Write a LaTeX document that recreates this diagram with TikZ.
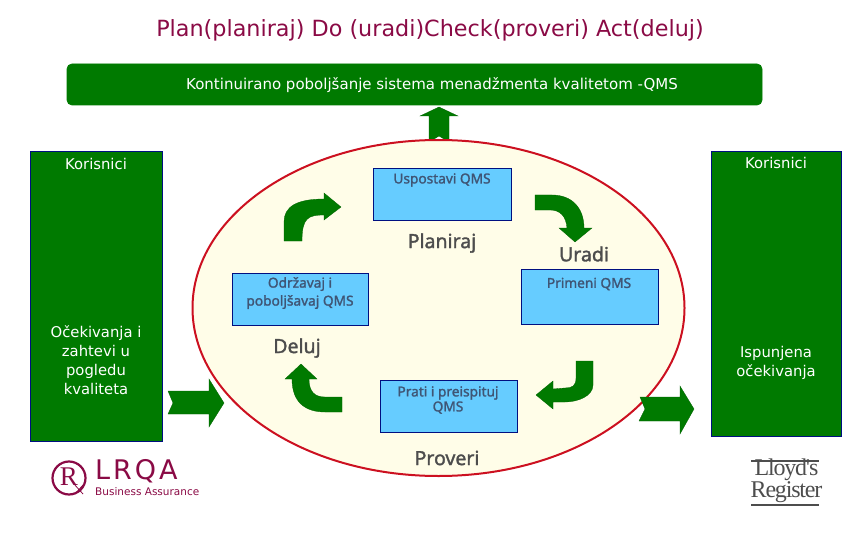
\documentclass[tikz,border=0pt]{standalone}
\usepackage{fontspec}
\setmainfont{DejaVu Sans}
\newfontfamily\serifface[LetterSpace=-5]{Liberation Serif}
\newfontfamily\sealface{Liberation Serif}
\newfontfamily\spacedface[LetterSpace=11]{DejaVu Sans}
\newfontfamily\labelface[FakeBold=1.6]{Noto Sans}
\definecolor{barGreen}{HTML}{007A00}
\definecolor{boxBlue}{HTML}{66CCFF}
\definecolor{boxEdge}{HTML}{000F80}
\definecolor{ovalFill}{HTML}{FFFDE8}
\definecolor{ovalEdge}{HTML}{CC1020}
\definecolor{titleRed}{HTML}{8A0A45}
\definecolor{slate}{HTML}{3F5575}
\definecolor{greyText}{HTML}{4D4D4D}
\tikzset{
  x=1pt,y=-1pt,
  greenbox/.style={draw=boxEdge,fill=barGreen,line width=.8pt},
  bluebox/.style={draw=boxEdge,fill=boxBlue,line width=.8pt},
  greenshape/.style={fill=barGreen,draw=barGreen!80!black,line width=.3pt},
  boxtext/.style={font=\labelface\fontsize{13.7}{15}\selectfont,text=slate,align=center},
  sidetext/.style={font=\fontsize{14.8}{19}\selectfont,text=white,align=center},
  steptext/.style={font=\labelface\fontsize{19.5}{21}\selectfont,text=greyText},
}
\begin{document}
\begin{tikzpicture}
    \useasboundingbox (0,0) rectangle (864,540);
    \node[font=\fontsize{22.3}{26}\selectfont,text=titleRed] (title) at (430,30) {Plan(planiraj) Do (uradi)Check(proveri) Act(deluj)};
    \draw[greenbox,draw=barGreen,rounded corners=5pt] (67,64) rectangle (762,105);
    \node[font=\fontsize{15}{18}\selectfont,text=white] (kaizen) at (432,85) {Kontinuirano poboljšanje sistema menadžmenta kvalitetom -QMS};
    % side columns
    \draw[greenbox] (30,151) rectangle (162,441);
    \draw[greenbox] (711,151) rectangle (841,436);
    \node[sidetext] (custL) at (96,164) {Korisnici};
    \node[sidetext] (custR) at (776,163) {Korisnici};
    \node[sidetext] (needs) at (96,360) {Očekivanja i\\zahtevi u\\pogledu\\kvaliteta};
    \node[sidetext] (met) at (776,363) {Ispunjena\\očekivanja};
    % arrow up, under the oval
    \fill[greenshape] (439,107)--(458,116)--(449,116)--(449,142)--(439,136)--(429,142)--(429,116)--(420,116)--cycle;
    \draw[draw=ovalEdge,fill=ovalFill,line width=2pt] (438.5,308) ellipse (246 and 168);
    % boxes of the cycle
    \draw[bluebox] (373,168) rectangle (511,220);
    \draw[bluebox] (521,269) rectangle (658,324);
    \draw[bluebox] (380,380) rectangle (517,432);
    \draw[bluebox] (232,273) rectangle (368,325);
    \node[boxtext] (plan) at (442,180) {Uspostavi QMS};
    \node[boxtext] (doit) at (589,284) {Primeni QMS};
    \node[boxtext] (check) at (448,400) {Prati i preispituj\\QMS};
    \node[boxtext] (act) at (300,293) {Održavaj i\\[3pt]poboljšavaj QMS};
    \node[steptext] (planL) at (442,243) {Planiraj};
    \node[steptext] (doL) at (584,254) {Uradi};
    \node[steptext] (checkL) at (447,458) {Proveri};
    \node[steptext] (actL) at (297,348) {Deluj};
    % bent arrows
    \fill[greenshape] (284,241)--(284,222) .. controls (284,207) and (296,199) .. (324,199)--(324,193)--(341,207)--(324,220)--(324,215) .. controls (308,215) and (302,218) .. (302,241)--cycle;
    \fill[greenshape] (535,195)--(552,195) .. controls (572,195) and (584,208) .. (584,228)--(592,228)--(575,242)--(559,228)--(567,228) .. controls (566,216) and (560,210) .. (550,210)--(535,210)--cycle;
    \fill[greenshape] (576,361)--(593,361)--(593,385) .. controls (593,396) and (578,402) .. (565,402)--(553,402)--(553,409)--(536,395)--(553,381)--(553,389)--(565,388) .. controls (572,388) and (576,386) .. (576,378)--cycle;
    \fill[greenshape] (301,364)--(317,379)--(309,379) .. controls (309,392) and (315,397) .. (325,397)--(342,397)--(342,412)--(325,412) .. controls (305,412) and (292,402) .. (292,379)--(285,379)--cycle;
    % in and out
    \fill[greenshape] (168,391)--(209,391)--(209,379)--(224,403)--(209,427)--(209,414)--(168,414)--(173,403)--cycle;
    \fill[greenshape] (640,397)--(680,397)--(680,386)--(694,409)--(680,434)--(680,421)--(639,421)--(645,409)--cycle;
    % logos
    \draw[titleRed,line width=2.2pt] (69,478) circle (16.5);
    \node[font=\sealface\fontsize{27}{27}\selectfont,text=titleRed] (seal) at (69,477) {R};
    \draw[titleRed,line width=.8pt] (74,484)--(83,494) (75,494)--(83,485);
    \node[font=\spacedface\fontsize{27}{27}\selectfont,text=titleRed,anchor=west,inner sep=0pt] (lrqa) at (95,471) {LRQA};
    \node[font=\fontsize{10.5}{12}\selectfont,text=titleRed,anchor=west,inner sep=0pt] (biz) at (95,492) {Business Assurance};
    \draw[greyText,line width=1.5pt] (751,461)--(819,461) (751,505)--(819,505);
    \node[font=\serifface\fontsize{24}{15}\selectfont,text=greyText,inner sep=0pt,align=center] (lloyd) at (786.5,481) {Lloyd's\\Register};
  \end{tikzpicture}
\end{document}
